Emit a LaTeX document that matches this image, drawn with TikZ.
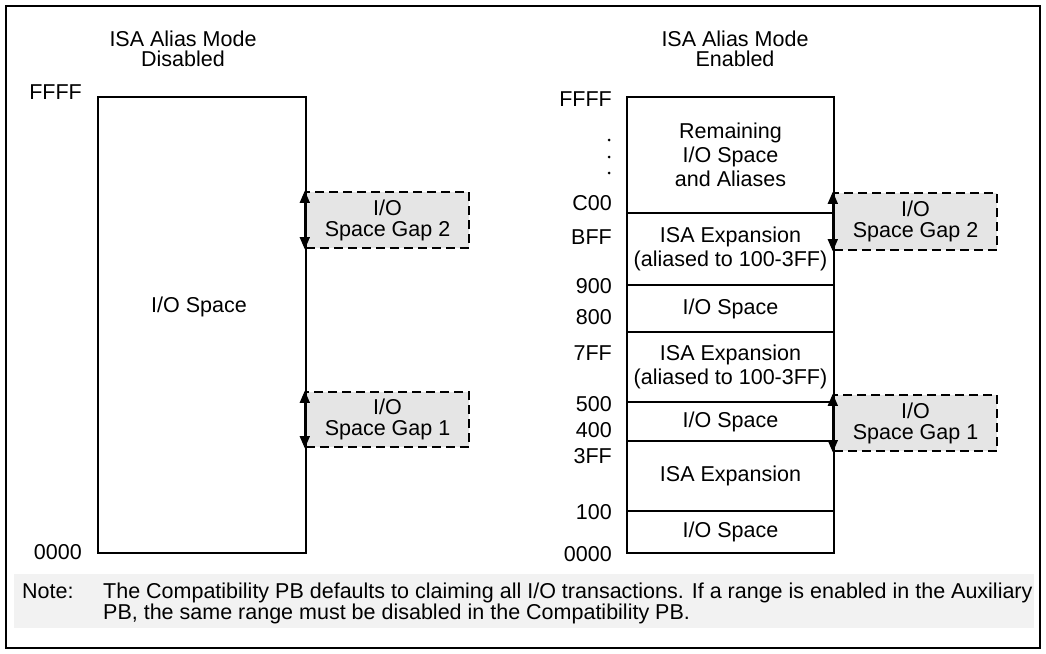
\documentclass[tikz,border=0pt]{standalone}
\usepackage{fontspec}
\setmainfont{Liberation Sans}
\usetikzlibrary{arrows.meta,positioning}

\begin{document}
\begin{tikzpicture}[x=1pt,y=-1pt,
  every node/.style={font=\fontsize{21.5}{24}\selectfont,inner sep=0pt},
  frame/.style={draw,line width=1.8pt},
  region/.style={draw,rectangle,line width=2.4pt,minimum width=207pt,align=center},
  gapbox/.style={draw,rectangle,dash pattern=on 9pt off 5pt,line width=2.4pt,fill=gray!20,minimum width=163pt,align=center,font=\fontsize{21.5}{21}\selectfont},
  addr/.style={anchor=east},
  title/.style={align=center,font=\fontsize{21.5}{20}\selectfont},
  dot/.style={circle,fill,minimum size=3pt},
  gaparr/.style={{Triangle[length=12pt,width=10pt]}-{Triangle[length=12pt,width=10pt]},line width=1.4pt}
]
\useasboundingbox (0,0) rectangle (1046,653);

% Outer frame and note shading
\draw[frame] (6,6) rectangle (1040,648);
\fill[gray!10] (14,574) rectangle (1034,628);

% Titles
\node[title] (offtitle) at (183,49) {ISA Alias Mode\\Disabled};
\node[title] (ontitle) at (735,49) {ISA Alias Mode\\Enabled};

% Gap boxes (drawn first, the memory maps sit on top)
\node[gapbox,minimum height=56pt] (offgapB) at (387.5,220) {I/O\\Space Gap 2};
\node[gapbox,minimum height=55pt] (offgapA) at (387.5,419.5) {I/O\\Space Gap 1};
\node[gapbox,minimum height=57pt] (ongapB) at (915.5,221.5) {I/O\\Space Gap 2};
\node[gapbox,minimum height=56pt] (ongapA) at (915.5,423) {I/O\\Space Gap 1};

% Alias mode disabled
\node[region,minimum width=208pt,minimum height=456pt] (offspace) at (202,325) {};
\node (offlabel) at (199,307) {I/O Space};
\node[addr] (offtop) at (82,92) {FFFF};
\node[addr] (offbot) at (82,552) {0000};

% Alias mode enabled
\node[region,minimum height=116pt] (remain) at (730.5,155) {Remaining\\I/O Space\\and Aliases};
\node[region,minimum height=72pt] (isahi) at (730.5,249) {ISA Expansion\\(aliased to 100-3FF)};
\node[region,minimum height=47pt] (iomid) at (730.5,308.5) {I/O Space};
\node[region,minimum height=70pt] (isamid) at (730.5,367) {ISA Expansion\\(aliased to 100-3FF)};
\node[region,minimum height=39pt] (iolow) at (730.5,421.5) {I/O Space};
\node[region,minimum height=70pt] (isalow) at (730.5,476) {ISA Expansion};
\node[region,minimum height=42pt] (iobase) at (730.5,532) {I/O Space};

% Addresses
\node[addr] (adFFFF) at (612,99) {FFFF};
\node[dot] (dotA) at (609,140) {};
\node[dot] (dotB) at (609,157) {};
\node[dot] (dotC) at (609,173) {};
\node[addr] (adC00) at (612,203) {C00};
\node[addr] (adBFF) at (612,237) {BFF};
\node[addr] (ad900) at (612,286) {900};
\node[addr] (ad800) at (612,317) {800};
\node[addr] (ad7FF) at (612,353) {7FF};
\node[addr] (ad500) at (612,404) {500};
\node[addr] (ad400) at (612,430) {400};
\node[addr] (ad3FF) at (612,456) {3FF};
\node[addr] (ad100) at (612,512) {100};
\node[addr] (ad0000) at (612,554) {0000};

% Gap arrows
\draw[gaparr] (offgapB.north west) -- (offgapB.south west);
\draw[gaparr] (offgapA.north west) -- (offgapA.south west);
\draw[gaparr] (ongapB.north west) -- (ongapB.south west);
\draw[gaparr] (ongapA.north west) -- (ongapA.south west);

% Note
\node[anchor=base west] (notetag) at (22,598) {Note:};
\node[anchor=base west] (notelineA) at (103,598) {The Compatibility PB defaults to claiming all I/O transactions. If a range is enabled in the Auxiliary};
\node[anchor=base west] (notelineB) at (103,619) {PB, the same range must be disabled in the Compatibility PB.};

\end{tikzpicture}
\end{document}
